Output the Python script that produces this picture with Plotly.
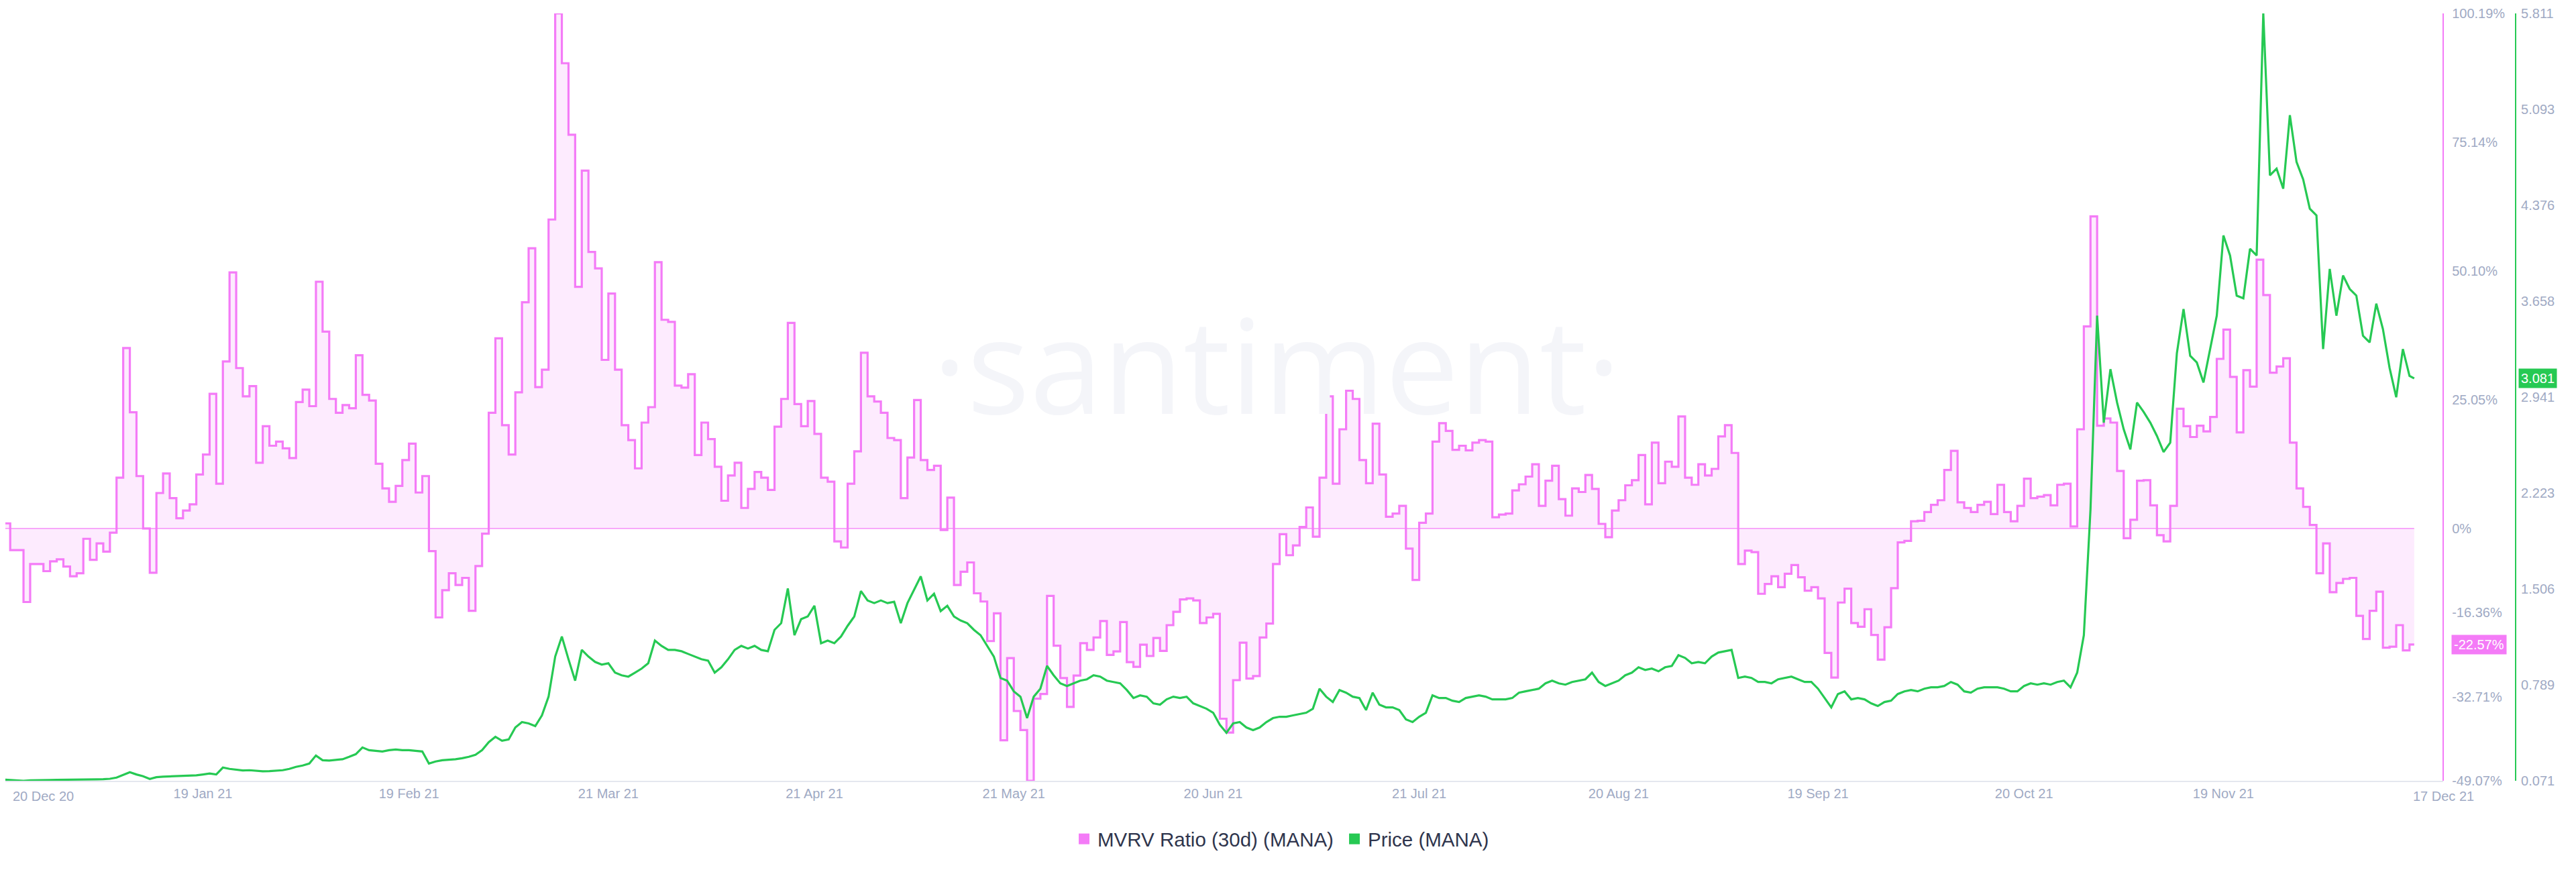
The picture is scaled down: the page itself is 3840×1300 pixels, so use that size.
import pandas as pd
import plotly.graph_objects as go

# ---------------- data ----------------
START_DATE = "2020-12-20"
LAST_TIMESTAMP = "2021-12-17 17:00"

MVRV_30D = [
    1.0, -4.2, -4.2, -14.3, -6.9, -6.9, -8.3, -6.4, -6.0, -7.4,
    -9.3, -8.7, -2.0, -6.1, -2.9, -4.5, -0.8, 9.9, 35.1, 22.6,
    10.2, 0.0, -8.6, 6.9, 10.7, 5.9, 2.0, 3.5, 4.7, 10.5,
    14.4, 26.2, 8.7, 32.5, 49.8, 31.2, 25.7, 27.7, 12.8, 19.9,
    16.1, 16.9, 15.6, 13.7, 24.6, 27.0, 23.8, 48.0, 38.3, 25.2,
    22.5, 24.0, 23.4, 33.7, 26.0, 24.9, 12.6, 7.8, 5.2, 8.3,
    13.3, 16.5,
    7.0, 10.2, -4.4, -17.3, -12.0, -8.7, -11.0, -9.6, -16.0, -7.3,
    -1.0, 22.5, 37.0, 20.1, 14.4, 26.5, 44.0, 54.5, 27.5, 30.9,
    60.1, 100.19, 90.5, 76.6, 47.0, 69.6, 53.8, 50.6, 32.8, 45.7,
    30.9, 20.1, 17.2, 11.7, 20.6, 23.6, 51.8, 40.6, 40.2, 27.8,
    27.4, 30.0, 14.3, 20.6, 17.4, 12.0, 5.4, 10.3, 12.8, 4.0,
    7.7, 11.0, 9.9, 7.5, 19.8, 25.2, 40.0, 24.2, 19.9, 24.8,
    18.4, 9.9, 9.1, -2.5, -3.7, 8.7, 15.0, 34.2, 25.7, 24.7,
    22.5, 17.6, 17.2, 5.9, 13.8, 25.0, 13.3, 11.4, 12.2, -0.3,
    6.0, -11.0, -8.4, -6.6, -12.6, -14.2, -21.9, -16.5, -41.2, -25.2,
    -35.5, -39.2, -49.07, -33.1, -32.2, -13.1, -22.8, -29.1, -34.7, -28.6,
    -22.3, -23.6, -21.2, -18.0, -24.6, -23.9, -18.2, -26.0, -26.9, -22.6,
    -24.8, -21.3, -23.8, -18.8, -16.2, -13.8, -13.6, -14.0, -18.4, -17.3,
    -16.6,
    -37.0, -39.7, -29.5, -22.2, -29.2, -28.7, -21.2, -18.5, -6.9, -1.1,
    -5.2, -3.3, 0.3, 4.1, -1.6, 9.9, 25.7, 8.7, 19.3, 26.8,
    25.2, 13.3, 8.8, 20.4, 10.5, 2.3, 2.9, 4.4, -3.9, -10.0,
    1.1, 2.9, 16.9, 20.5, 19.0, 15.3, 16.1, 15.2, 16.7, 17.2,
    16.9, 2.2, 2.7, 2.9, 7.4, 8.6, 10.1, 12.5, 4.4, 9.3,
    12.2, 5.7, 2.5, 7.8, 7.1, 10.4, 7.7, 0.9, -1.7, 3.5,
    5.5, 8.4, 9.4, 14.3, 4.7, 16.7, 8.8, 13.0, 12.0, 21.8,
    9.9, 8.5, 12.5, 10.3, 11.6, 17.9, 20.1, 14.7, -6.9, -4.3,
    -4.6, -12.7, -10.8, -9.3, -11.4, -8.8, -7.1, -9.5, -12.1, -11.4,
    -13.6, -24.2, -29.0, -14.4, -11.7, -18.4, -19.1, -15.7, -20.7, -25.5,
    -19.2, -11.6, -2.7, -2.4, 1.4, 1.5, 3.2, 4.6, 5.5, 11.4,
    15.1, 5.1, 4.0, 3.2, 4.6, 5.2, 2.8, 8.5, 3.2, 1.4,
    4.4,
    9.7, 5.9, 6.2, 6.5, 4.5, 8.5, 8.7, 0.4, 19.3, 39.3,
    60.7, 20.0, 21.4, 20.6, 11.2, -1.9, 1.7, 9.3, 9.4, 4.5,
    -1.3, -2.5, 4.4, 23.3, 19.9, 17.8, 20.0, 18.9, 21.7, 33.0,
    38.7, 29.5, 18.7, 30.8, 27.6, 52.3, 45.4, 30.3, 31.5, 33.1,
    16.7, 7.8, 4.2, 0.7, -8.7, -2.9, -12.4, -10.6, -9.8, -9.6,
    -17.0, -21.5, -16.0, -12.3, -23.2, -23.0, -18.8, -23.7, -22.57,
]
MVRV_LATEST = -22.57

PRICE = [
    0.080, 0.078, 0.076, 0.071, 0.074, 0.076, 0.077, 0.077, 0.078, 0.078,
    0.079, 0.080, 0.080, 0.081, 0.082, 0.083, 0.086, 0.095, 0.115, 0.135,
    0.118, 0.105, 0.085, 0.098, 0.102, 0.104, 0.103, 0.106, 0.108, 0.112,
    0.118, 0.125, 0.118, 0.170, 0.160, 0.152, 0.148, 0.150, 0.145, 0.142,
    0.143, 0.146, 0.150, 0.160, 0.175, 0.185, 0.200, 0.260, 0.225, 0.222,
    0.225, 0.232, 0.250, 0.270, 0.320, 0.300, 0.295, 0.290, 0.300, 0.305,
    0.300,
    0.300, 0.295, 0.290, 0.200, 0.215, 0.225, 0.228, 0.232, 0.240, 0.250,
    0.265, 0.300, 0.360, 0.400, 0.370, 0.380, 0.470, 0.510, 0.500, 0.480,
    0.560, 0.700, 1.000, 1.150, 0.980, 0.820, 1.050, 1.000, 0.960, 0.940,
    0.950, 0.880, 0.860, 0.850, 0.880, 0.910, 0.950, 1.120, 1.080, 1.050,
    1.050, 1.040, 1.020, 1.000, 0.980, 0.970, 0.880, 0.920, 0.980, 1.050,
    1.080, 1.060, 1.080, 1.050, 1.040, 1.200, 1.250, 1.510, 1.160, 1.280,
    1.300,
    1.380, 1.100, 1.120, 1.100, 1.150, 1.230, 1.300, 1.490, 1.420, 1.400,
    1.420, 1.400, 1.410, 1.250, 1.400, 1.500, 1.600, 1.420, 1.470, 1.340,
    1.380, 1.300, 1.270, 1.250, 1.200, 1.160, 1.080, 1.000, 0.840, 0.820,
    0.740, 0.700, 0.540, 0.700, 0.760, 0.930, 0.860, 0.800, 0.780, 0.800,
    0.820, 0.830, 0.860, 0.850, 0.820, 0.810, 0.800, 0.750, 0.690, 0.710,
    0.700, 0.650, 0.640, 0.680, 0.700, 0.690, 0.700, 0.650, 0.630, 0.610,
    0.580, 0.490, 0.430, 0.500, 0.510, 0.470, 0.450, 0.470, 0.510, 0.540,
    0.550, 0.550, 0.560, 0.570, 0.580, 0.610, 0.760, 0.700, 0.660, 0.750,
    0.730, 0.700, 0.690, 0.600, 0.730, 0.640, 0.620, 0.620, 0.600, 0.530,
    0.510, 0.550, 0.580, 0.710, 0.690, 0.690, 0.670, 0.660, 0.690, 0.700,
    0.710, 0.700, 0.680, 0.680, 0.680, 0.690, 0.730, 0.740, 0.750, 0.760,
    0.800, 0.820, 0.800, 0.790, 0.810, 0.820, 0.830, 0.880, 0.810, 0.780,
    0.800,
    0.820, 0.860, 0.880, 0.920, 0.900, 0.910, 0.890, 0.920, 0.930, 1.010,
    0.990, 0.950, 0.960, 0.950, 1.000, 1.030, 1.040, 1.050, 0.840, 0.850,
    0.840, 0.810, 0.810, 0.800, 0.830, 0.840, 0.850, 0.830, 0.810, 0.810,
    0.760, 0.690, 0.620, 0.720, 0.740, 0.680, 0.690, 0.680, 0.650, 0.630,
    0.660, 0.670, 0.720, 0.740, 0.750, 0.740, 0.760, 0.770, 0.770, 0.780,
    0.810, 0.790, 0.740, 0.730, 0.760, 0.770, 0.770, 0.770, 0.760, 0.740,
    0.740, 0.780, 0.800, 0.790, 0.800, 0.790, 0.810, 0.820, 0.770, 0.880,
    1.160, 2.100, 3.550, 2.750, 3.150, 2.900, 2.700, 2.550, 2.900, 2.830,
    2.750, 2.650, 2.530, 2.600, 3.270, 3.600, 3.250, 3.200, 3.050, 3.310,
    3.550, 4.150, 4.000, 3.700, 3.680, 4.050, 4.000, 5.811, 4.600, 4.650,
    4.500, 5.050, 4.700, 4.570, 4.350, 4.300, 3.300, 3.900, 3.550, 3.850,
    3.750, 3.700, 3.400, 3.350, 3.640, 3.450, 3.160, 2.940, 3.300, 3.100,
]
PRICE_LATEST = 3.081

TICK_DATES = ["2020-12-20", "2021-01-19", "2021-02-19", "2021-03-21", "2021-04-21",
              "2021-05-21", "2021-06-20", "2021-07-21", "2021-08-20", "2021-09-19",
              "2021-10-20", "2021-11-19", "2021-12-17"]
TICK_LABELS = ["20 Dec 20", "19 Jan 21", "19 Feb 21", "21 Mar 21", "21 Apr 21",
               "21 May 21", "20 Jun 21", "21 Jul 21", "20 Aug 21", "19 Sep 21",
               "20 Oct 21", "19 Nov 21", "17 Dec 21"]
MVRV_TICK_LABELS = ["100.19%", "75.14%", "50.10%", "25.05%", "0%",
                    "-16.36%", "-32.71%", "-49.07%"]
PRICE_TICK_LABELS = ["5.811", "5.093", "4.376", "3.658", "2.941",
                     "2.223", "1.506", "0.789", "0.071"]

assert len(MVRV_30D) == len(PRICE) == 363, (len(MVRV_30D), len(PRICE))

# ---------------- styles ----------------
PINK = "#F47BF7"
PINK_FILL = "rgba(244,123,247,0.15)"
GREEN = "#26C953"
TICK_COLOR = "#9FAAC4"
FONT = "Liberation Sans, Arial, sans-serif"
X_RANGE = ["2020-12-20 06:30", "2021-12-22 02:00"]

dates = list(pd.date_range(START_DATE, periods=len(MVRV_30D), freq="D")) + [pd.Timestamp(LAST_TIMESTAMP)]
mvrv = MVRV_30D + [MVRV_LATEST]
price = PRICE + [PRICE_LATEST]

fig = go.Figure()

fig.add_trace(go.Scatter(
    x=dates, y=mvrv, mode="lines", line=dict(color=PINK, width=3.2, shape="hv"),
    fill="tozeroy", fillcolor=PINK_FILL, yaxis="y", showlegend=False, hoverinfo="skip"))
fig.add_trace(go.Scatter(
    x=[dates[0], dates[-1]], y=[0, 0], mode="lines", line=dict(color=PINK, width=1.2),
    yaxis="y", showlegend=False, hoverinfo="skip"))
fig.add_trace(go.Scatter(
    x=dates, y=price, mode="lines", line=dict(color=GREEN, width=3.2),
    yaxis="y2", showlegend=False, hoverinfo="skip"))

# legend entries (square swatches)
fig.add_trace(go.Scatter(x=[None], y=[None], mode="markers", name="MVRV Ratio (30d) (MANA)",
                         marker=dict(symbol="square", size=17, color=PINK)))
fig.add_trace(go.Scatter(x=[None], y=[None], mode="markers", name="Price (MANA)",
                         marker=dict(symbol="square", size=17, color=GREEN)))

tick_font = dict(family=FONT, size=20, color=TICK_COLOR)

fig.update_layout(
    width=3840, height=1300,
    margin=dict(l=0, r=0, t=12, b=144),
    paper_bgcolor="white", plot_bgcolor="white",
    font=dict(family=FONT),
    showlegend=True,
    legend=dict(orientation="h", x=0.5185, xanchor="center", y=-0.076, yanchor="middle",
                font=dict(family=FONT, size=29.5, color="#2F354D"), bgcolor="rgba(0,0,0,0)",
                entrywidth=358, entrywidthmode="pixels"),
    xaxis=dict(domain=[0, 0.9464], type="date", range=X_RANGE,
               showgrid=False, zeroline=False, showline=True, linecolor="#E4E7EF", linewidth=2,
               tickvals=TICK_DATES[1:-1], ticktext=TICK_LABELS[1:-1], ticks="",
               tickfont=tick_font),
    yaxis=dict(anchor="free", position=0.9464, side="right",
               range=[min(mvrv), max(mvrv)],
               tickvals=[float(t.rstrip("%")) for t in MVRV_TICK_LABELS], ticktext=MVRV_TICK_LABELS,
               showline=True, linecolor=PINK, linewidth=2, showgrid=False, zeroline=False,
               ticks="", tickfont=tick_font, ticklabelstandoff=8),
    yaxis2=dict(overlaying="y", anchor="free", position=0.9745, side="right",
                range=[min(price), max(price)],
                tickvals=[float(t) for t in PRICE_TICK_LABELS], ticktext=PRICE_TICK_LABELS,
                showline=True, linecolor=GREEN, linewidth=2, showgrid=False, zeroline=False,
                ticks="", tickfont=tick_font, ticklabelstandoff=3),
)

annotations = [
    # watermark
    dict(xref="paper", yref="paper", x=0.4935, y=0.545, xanchor="center", yanchor="middle",
         text="·santiment·", showarrow=False,
         font=dict(family="Open Sans, sans-serif", size=196, color="#F4F5F9")),
    # end labels of the date axis
    dict(xref="paper", yref="paper", x=0, y=-0.0201, xanchor="left", yanchor="middle",
         text=TICK_LABELS[0], showarrow=False, xshift=9, font=tick_font),
    dict(xref="x", yref="paper", x=TICK_DATES[-1], y=-0.0201, xanchor="left", yanchor="middle",
         text=TICK_LABELS[-1], showarrow=False, xshift=3, font=tick_font),
    # latest-value badges
    dict(xref="paper", yref="y", x=0.9495, y=mvrv[-1], xanchor="left", yanchor="middle",
         text=f"{MVRV_LATEST:.2f}%", showarrow=False, bgcolor=PINK, borderpad=3,
         font=dict(family=FONT, size=20, color="white")),
    dict(xref="paper", yref="y2", x=0.9755, y=price[-1], xanchor="left", yanchor="middle",
         text=f"{PRICE_LATEST:.3f}", showarrow=False, bgcolor=GREEN, borderpad=3,
         font=dict(family=FONT, size=20, color="white")),
]
fig.update_layout(annotations=annotations)

fig.write_html("out.html", config={"displayModeBar": False})
